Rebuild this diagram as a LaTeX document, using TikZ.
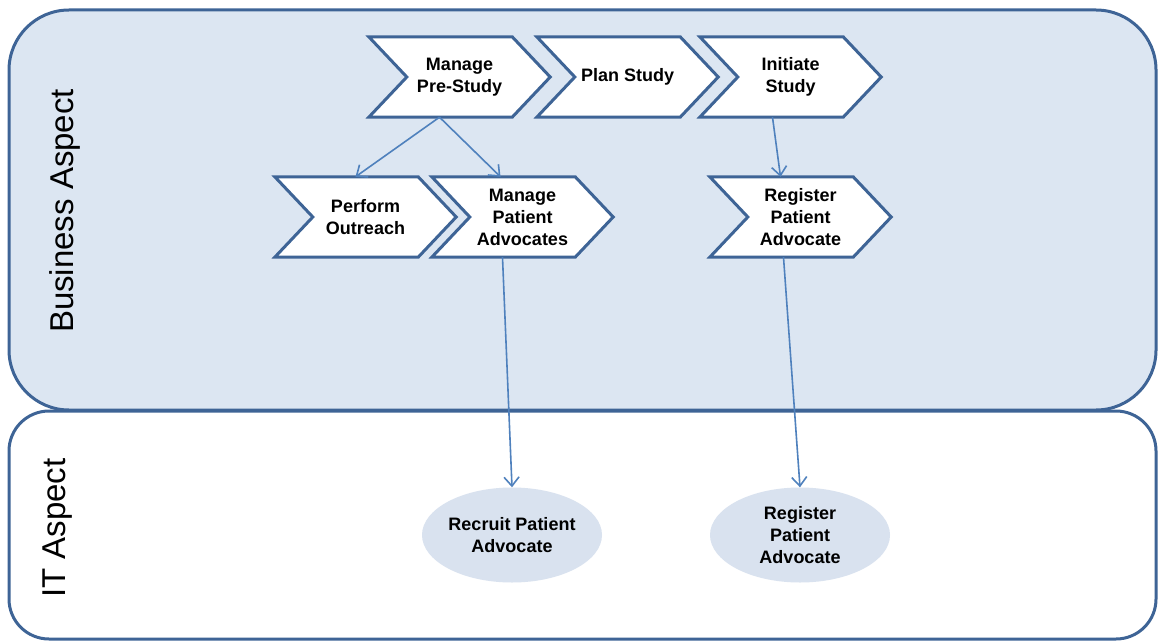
\documentclass[tikz,border=0pt]{standalone}
\usepackage{fontspec}
\setmainfont{Liberation Sans}
\usetikzlibrary{shapes.geometric,arrows.meta,calc}

\definecolor{panelfill}{HTML}{DCE6F2}
\definecolor{panelline}{HTML}{3E6496}
\definecolor{linkblue}{HTML}{4F81BD}
\definecolor{ovalfill}{HTML}{D9E2EF}

\pgfdeclarelayer{panels}
\pgfdeclarelayer{shapes}
\pgfsetlayers{panels,shapes,main}

\tikzset{
  panel/.style={draw=panelline, line width=3pt},
  lanelabel/.style={rotate=90, font=\fontsize{33}{36}\selectfont, inner sep=0pt},
  chevbody/.style={minimum width=105pt, minimum height=80pt, inner sep=0pt,
    align=center, font=\bfseries\fontsize{18}{22}\selectfont},
  chevline/.style={draw=panelline, fill=white, line width=3pt, line join=miter},
  oval/.style={ellipse, fill=ovalfill, minimum width=180pt, minimum height=95pt,
    inner sep=0pt, align=center, font=\bfseries\fontsize{18}{22}\selectfont},
  link/.style={draw=linkblue, line width=1.6pt,
    -{Straight Barb[length=9pt,width=15pt,line width=1.6pt]}},
}

% chevron: name, x, y, text
\newcommand{\chevron}[4]{%
  \node[chevbody] (#1) at (#2,#3) {#4};
  \begin{pgfonlayer}{shapes}
    \draw[chevline] ([xshift=-38pt]#1.north west) -- (#1.north east)
      -- ([xshift=38pt]#1.east) -- (#1.south east)
      -- ([xshift=-38pt]#1.south west) -- (#1.west) -- cycle;
  \end{pgfonlayer}}

\begin{document}
\begin{tikzpicture}[x=1pt,y=-1pt]
  \useasboundingbox (0,0) rectangle (1158,642);

  % swim lanes
  \begin{pgfonlayer}{panels}
    \draw[panel, fill=panelfill, rounded corners=60pt] (9,10) rectangle (1156,410);
    \draw[panel, fill=white, rounded corners=40pt] (9,411) rectangle (1156,639);
  \end{pgfonlayer}
  \node[lanelabel] (business) at (65,211) {Business Aspect};
  \node[lanelabel] (it) at (58,528) {IT Aspect};

  % business process chevrons
  \chevron{mps}{459.5}{77}{Manage\\Pre-Study}
  \chevron{ps}{627.5}{77}{Plan Study}
  \chevron{is}{790.5}{77}{Initiate\\Study}
  \chevron{po}{365.5}{217}{Perform\\Outreach}
  \chevron{mpa}{522.5}{217}{Manage\\Patient\\Advocates}
  \chevron{rpa}{800.5}{217}{Register\\Patient\\Advocate}

  % IT services
  \node[oval] (rec) at (512,535) {Recruit Patient\\Advocate};
  \node[oval] (reg) at (800,535) {Register\\Patient\\Advocate};

  % connectors
  \draw[link] ([xshift=-20pt]mps.south) -- ([xshift=-10pt]po.north);
  \draw[link] ([xshift=-20pt]mps.south) -- ([xshift=-22pt]mpa.north);
  \draw[link] ([xshift=-18pt]is.south) -- ([xshift=-20pt]rpa.north);
  \draw[link] ([xshift=-20pt]mpa.south) -- (rec.north);
  \draw[link] ([xshift=-17pt]rpa.south) -- (reg.north);
\end{tikzpicture}
\end{document}
